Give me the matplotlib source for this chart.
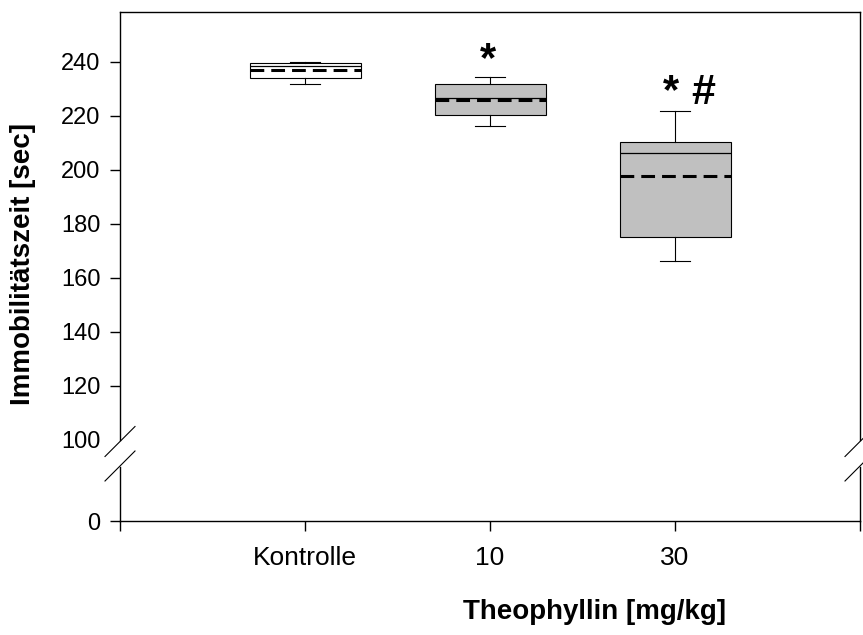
import matplotlib
matplotlib.use("Agg")
import matplotlib.pyplot as plt

plt.rcParams["font.family"] = ["Liberation Sans", "DejaVu Sans"]

# data
groups = ["Kontrolle", "10", "30"]
q1 = [234.0, 220.3, 175.1]
median = [238.6, 226.7, 206.1]
q3 = [239.5, 231.8, 210.2]
whis_lo = [231.7, 216.2, 166.4]
whis_hi = [239.9, 234.3, 222.0]
mean = [236.9, 226.0, 197.6]
box_colors = ["white", "#c0c0c0", "#c0c0c0"]

upper_ticks = [100, 120, 140, 160, 180, 200, 220, 240]

W, H = 863, 635
fig = plt.figure(figsize=(W / 100, H / 100), dpi=100)

left, right = 120 / W, 860 / W
ax = fig.add_axes([left, 1 - 440 / H, right - left, (440 - 12) / H])
ax_lo = fig.add_axes([left, 1 - 521 / H, right - left, (521 - 467) / H])

positions = [1, 2, 3]
stats = []
for i in range(3):
    stats.append(dict(med=median[i], q1=q1[i], q3=q3[i], whislo=whis_lo[i],
                      whishi=whis_hi[i], mean=mean[i], fliers=[]))

bp = ax.bxp(stats, positions=positions, widths=0.6, capwidths=0.16,
            patch_artist=True, showmeans=True, meanline=True,
            boxprops=dict(edgecolor="black", linewidth=0.8),
            medianprops=dict(color="black", linewidth=0.9),
            meanprops=dict(color="black", linewidth=2.2, linestyle=(0, (4.5, 2.3))),
            whiskerprops=dict(color="black", linewidth=0.8),
            capprops=dict(color="black", linewidth=0.8))
for patch, c in zip(bp["boxes"], box_colors):
    patch.set_facecolor(c)

ax.set_xlim(0, 4)
ax.set_ylim(100, 258.5)
ax.set_yticks(upper_ticks)
ax.set_xticks([])
ax.spines["bottom"].set_visible(False)
ax.tick_params(axis="y", direction="out", length=7, width=1, labelsize=17, pad=7)
ax.yaxis.get_major_ticks()[0].tick1line.set_visible(False)
for s in ["left", "right", "top"]:
    ax.spines[s].set_linewidth(1)

ax_lo.set_xlim(0, 4)
ax_lo.set_ylim(0, 20)
ax_lo.set_yticks([0])
ax_lo.set_xticks([0, 1, 2, 3, 4])
ax_lo.set_xticklabels([""] + groups + [""])
ax_lo.spines["top"].set_visible(False)
ax_lo.tick_params(axis="y", direction="out", length=7, width=1, labelsize=17, pad=7)
ax_lo.tick_params(axis="x", direction="out", length=7, width=1, labelsize=19, pad=11)
for s in ["left", "right", "bottom"]:
    ax_lo.spines[s].set_linewidth(1)

# break marks
dx, dy = 15 / (W * (right - left)), 15 / (440 - 12)
kw = dict(color="black", linewidth=0.8, clip_on=False)
for xa in (0, 1):
    ax.plot([xa - dx, xa + dx], [-dy - 1.5 / 428, dy - 1.5 / 428], transform=ax.transAxes, **kw)
dy2 = 15 / (521 - 467)
for xa in (0, 1):
    ax_lo.plot([xa - dx, xa + dx], [1 - dy2 + 1 / 54, 1 + dy2 + 1 / 54], transform=ax_lo.transAxes, **kw)

# significance marks
ax.text(1.99, 236.7, "*", ha="center", va="baseline", fontsize=30, fontweight="bold")
ax.text(2.98, 224.6, "*", ha="center", va="baseline", fontsize=30, fontweight="bold")
ax.text(3.15, 224.6, "#", ha="center", va="baseline", fontsize=31, fontweight="bold")

fig.text(23 / W, 1 - 264 / H, "Immobilitätszeit [sec]", rotation=90, ha="center",
         va="center", fontsize=20, fontweight="bold")
fig.text(594 / W, 1 - 612 / H, "Theophyllin [mg/kg]", ha="center", va="center",
         fontsize=20, fontweight="bold")

fig.savefig("out.png", dpi=100)
